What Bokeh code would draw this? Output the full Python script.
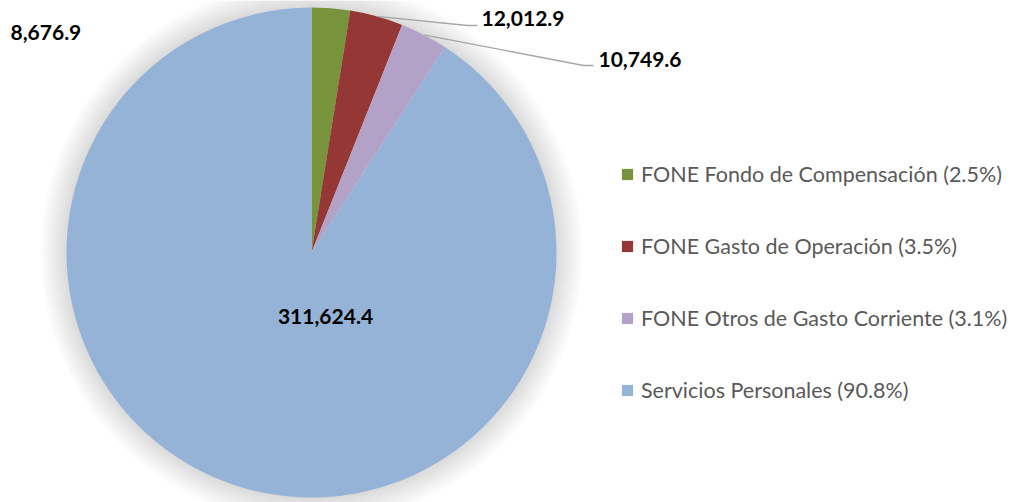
import numpy as np
from bokeh.plotting import figure
from bokeh.models import Range1d, Legend, LegendItem
from bokeh.core.properties import value
from bokeh.embed import file_html
from bokeh.resources import INLINE

categories = ["FONE Fondo de Compensación", "FONE Gasto de Operación",
              "FONE Otros de Gasto Corriente", "Servicios Personales"]
values = [8676.9, 12012.9, 10749.6, 311624.4]
labels = ["8,676.9", "12,012.9", "10,749.6", "311,624.4"]
pct_labels = ["2.5%", "3.5%", "3.1%", "90.8%"]
colors = ["#77933C", "#953735", "#B3A2C7", "#95B3D7"]

W, H = 1017, 502
cx, cy, R = 311, 250, 245

vals = np.array(values)
total = vals.sum()
cum = np.cumsum(vals)
before = cum - vals
start = np.pi / 2 - 2 * np.pi * before / total
end = np.pi / 2 - 2 * np.pi * cum / total
mid = (start + end) / 2

p = figure(width=W, height=H, output_backend="svg", toolbar_location=None,
           x_range=Range1d(0, W), y_range=Range1d(0, H), min_border=0)
p.axis.visible = False
p.grid.visible = False
p.outline_line_color = None
p.background_fill_color = "white"

# soft shadow
for i in range(12):
    p.circle(x=[cx], y=[cy], radius=R + 2 + i * 2.2, fill_color="black",
             fill_alpha=0.011, line_color=None)

renderers = []
for i in range(len(values)):
    r = p.wedge(x=cx, y=cy, radius=R, start_angle=start[i], end_angle=end[i],
                direction="clock", fill_color=colors[i], line_color=None)
    renderers.append(r)

# leader lines for slices 2 and 3
elbows = {1: (467, 477, 477), 2: (583, 593, 437)}
for i, (ex, hx, ey) in elbows.items():
    sx = cx + R * np.cos(mid[i])
    sy = cy + R * np.sin(mid[i])
    p.line(x=[sx, ex, hx], y=[sy, ey, ey], line_color="#A6A6A6", line_width=1.3)

lab_x = [10, 481, 598, 325]
lab_y = [H - 32, H - 18, H - 59, H - 316]
lab_align = ["left", "left", "left", "center"]
p.text(x=lab_x, y=lab_y, text=labels, text_align=lab_align, text_baseline="middle",
       text_font=value("Lato"), text_font_style="bold", text_font_size="21px",
       text_color="black")

legend = Legend(items=[LegendItem(label=f"{c} ({q})", renderers=[renderers[i]])
                       for i, (c, q) in enumerate(zip(categories, pct_labels))],
                location=(612, 91), orientation="vertical",
                glyph_width=14, glyph_height=14, label_height=26,
                spacing=46, padding=8, margin=0,
                label_text_font="Lato", label_text_font_size="21.5px",
                label_text_color="#595959", label_standoff=7,
                border_line_alpha=0, background_fill_alpha=0)
p.add_layout(legend)

open("out.html", "w").write(file_html(p, INLINE))
